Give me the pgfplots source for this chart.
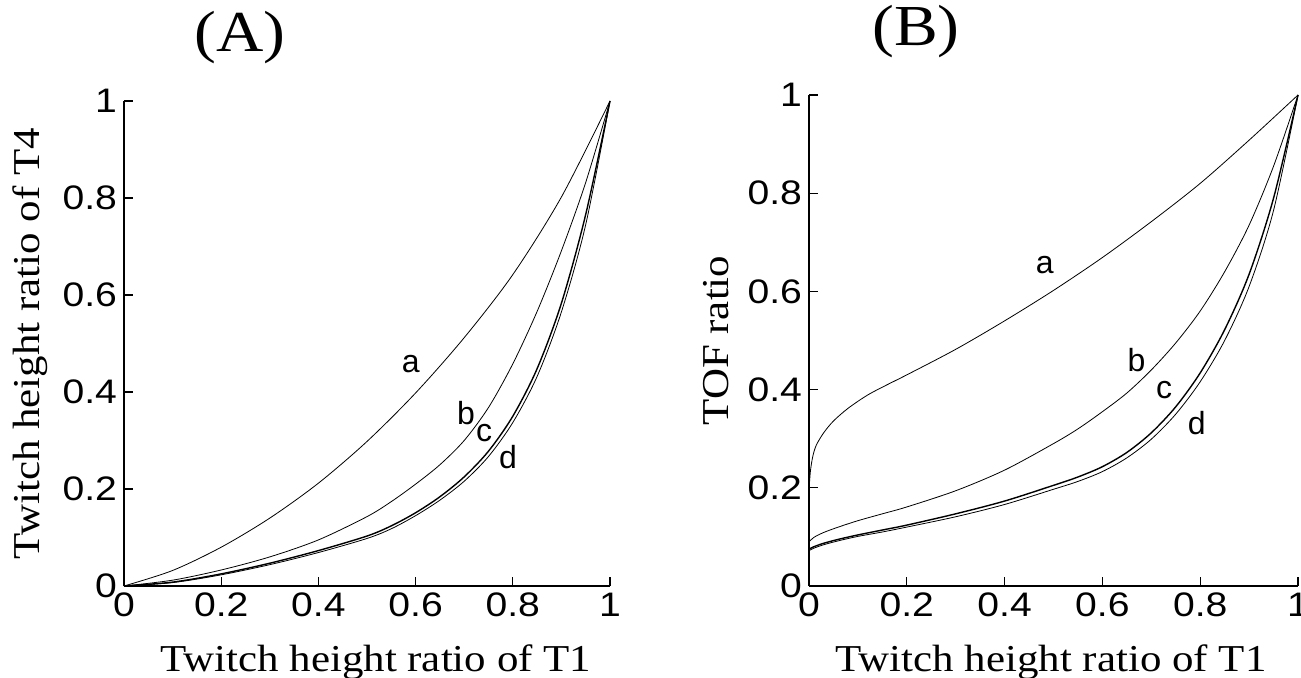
\documentclass[border=0pt]{standalone}
\usepackage{fontspec}
\setmainfont{Liberation Serif}[FakeStretch=1.13]
\newfontfamily\tickfont{Liberation Sans}[FakeStretch=1.15]
\newfontfamily\labfont{Liberation Sans}
\usepackage{pgfplots}
\pgfplotsset{compat=1.18}
\tikzset{lab/.style={font=\labfont\fontsize{16}{16}\selectfont}}
\pgfplotsset{
  panel/.style={
    scale only axis, xmin=0, xmax=1, ymin=0, ymax=1,
    axis lines*=left, axis line style={line width=1pt,-},
    xtick={0,0.2,0.4,0.6,0.8,1}, ytick={0,0.2,0.4,0.6,0.8,1},
    major tick length=4.5pt, tick align=inside,
    tick style={line width=0.6pt, black},
    ticklabel style={font=\tickfont\fontsize{17}{17}\selectfont},
    /pgf/number format/assume math mode=true,
    label style={font=\fontsize{19}{19}\selectfont},
    cycle list={{black, mark=none, line width=0.7pt}},
    every axis plot/.append style={smooth, tension=0.5},
    clip=false,
  },
}
\begin{document}
\begin{tikzpicture}
\path[use as bounding box] (-62pt,-46pt) rectangle (588.5pt,293pt);
\begin{axis}[panel, at={(0,0)}, anchor=south west, width=243pt, height=242.5pt,
  xlabel={Twitch height ratio of T1}, ylabel={Twitch height ratio of T4},
  xlabel style={at={(axis description cs:0.518,-0.177)}, anchor=base},
  ylabel style={at={(axis description cs:-0.193,0.5)}, anchor=center}]
% a
\addplot coordinates {(0,0) (0.1,0.032) (0.2,0.080) (0.3,0.140) (0.4,0.212) (0.5,0.298) (0.6,0.398) (0.7,0.512) (0.8,0.642) (0.9,0.802) (1,1)};
% b
\addplot coordinates {(0,0) (0.1,0.012) (0.2,0.033) (0.3,0.060) (0.4,0.095) (0.5,0.143) (0.55,0.174) (0.6,0.21) (0.65,0.25) (0.7,0.30) (0.75,0.368) (0.8,0.458) (0.85,0.566) (0.9,0.691) (0.95,0.832) (1,1)};
% c
\addplot coordinates {(0,0) (0.1,0.008) (0.2,0.025) (0.3,0.047) (0.4,0.073) (0.5,0.103) (0.55,0.124) (0.6,0.151) (0.65,0.184) (0.7,0.225) (0.75,0.278) (0.8,0.350) (0.85,0.448) (0.9,0.583) (0.95,0.766) (1,1)};
% d
\addplot coordinates {(0,0) (0.1,0.007) (0.2,0.023) (0.3,0.044) (0.4,0.069) (0.5,0.098) (0.55,0.118) (0.6,0.145) (0.65,0.177) (0.7,0.216) (0.75,0.267) (0.8,0.337) (0.85,0.432) (0.9,0.565) (0.95,0.745) (1,1)};
\node[lab] at (axis cs:0.59,0.458) {a};
\node[lab] at (axis cs:0.704,0.357) {b};
\node[lab] at (axis cs:0.741,0.315) {c};
\node[lab] at (axis cs:0.79,0.266) {d};
\node[font=\fontsize{29}{29}\selectfont] at (axis description cs:0.239,1.13) {(A)};
\end{axis}
\begin{axis}[panel, at={(342.5pt,0)}, anchor=south west, width=244.5pt, height=245.5pt,
  xlabel={Twitch height ratio of T1}, ylabel={TOF ratio},
  xlabel style={at={(axis description cs:0.495,-0.175)}, anchor=base},
  ylabel style={at={(axis description cs:-0.19,0.5)}, anchor=center}]
% a
\addplot coordinates {(0,0.195) (0.003,0.235) (0.008,0.265) (0.015,0.287) (0.03,0.312) (0.05,0.336) (0.08,0.362) (0.12,0.389) (0.16,0.41) (0.2,0.43) (0.3,0.482) (0.4,0.540) (0.5,0.602) (0.6,0.669) (0.7,0.742) (0.8,0.820) (0.9,0.908) (1,1)};
% b
\addplot coordinates {(0,0.09) (0.01,0.099) (0.03,0.109) (0.06,0.12) (0.1,0.133) (0.15,0.147) (0.2,0.161) (0.3,0.194) (0.4,0.236) (0.5,0.29) (0.55,0.32) (0.6,0.355) (0.65,0.393) (0.7,0.44) (0.75,0.495) (0.8,0.56) (0.85,0.64) (0.9,0.735) (0.95,0.855) (1,1)};
% c
\addplot coordinates {(0,0.075) (0.01,0.08) (0.03,0.087) (0.06,0.095) (0.1,0.104) (0.15,0.114) (0.2,0.124) (0.3,0.147) (0.4,0.173) (0.5,0.205) (0.55,0.222) (0.6,0.243) (0.65,0.272) (0.7,0.312) (0.75,0.365) (0.8,0.434) (0.85,0.522) (0.9,0.635) (0.95,0.79) (1,1)};
% d
\addplot coordinates {(0,0.072) (0.01,0.077) (0.03,0.084) (0.06,0.092) (0.1,0.101) (0.15,0.11) (0.2,0.12) (0.3,0.141) (0.4,0.166) (0.5,0.197) (0.55,0.213) (0.6,0.233) (0.65,0.261) (0.7,0.299) (0.75,0.35) (0.8,0.416) (0.85,0.5) (0.9,0.61) (0.95,0.765) (1,1)};
\node[lab] at (axis cs:0.482,0.654) {a};
\node[lab] at (axis cs:0.67,0.46) {b};
\node[lab] at (axis cs:0.726,0.40) {c};
\node[lab] at (axis cs:0.793,0.332) {d};
\node[font=\fontsize{29}{29}\selectfont] at (axis description cs:0.219,1.13) {(B)};
\end{axis}
\end{tikzpicture}
\end{document}
